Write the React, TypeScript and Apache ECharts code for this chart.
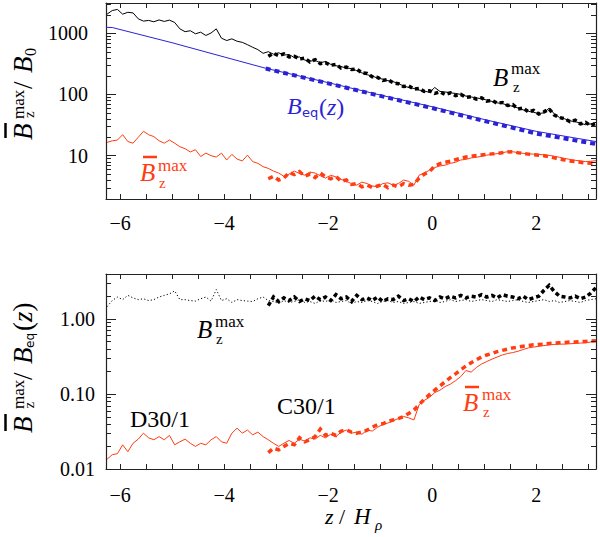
import { useEffect, useRef } from 'react';
import * as echarts from 'echarts';

// ---------- data ----------
const zD30 = [
  -6.25, -6.15, -6.05, -5.95, -5.85, -5.75, -5.65, -5.55, -5.45, -5.35,
  -5.25, -5.15, -5.05, -4.95, -4.85, -4.75, -4.65, -4.55, -4.45, -4.35,
  -4.25, -4.15, -4.05, -3.95, -3.85, -3.75, -3.65, -3.55, -3.45, -3.35,
  -3.25, -3.15, -3.05, -2.95, -2.85, -2.75, -2.65, -2.55, -2.45, -2.35,
  -2.25, -2.15, -2.05, -1.95, -1.85, -1.75, -1.65, -1.55, -1.45, -1.35,
  -1.25, -1.15, -1.05, -0.95, -0.85, -0.75, -0.65, -0.55, -0.45, -0.35,
  -0.25, -0.15, -0.05, 0.05, 0.15, 0.25, 0.35, 0.45, 0.55, 0.65,
  0.75, 0.85, 0.95, 1.05, 1.15, 1.25, 1.35, 1.45, 1.55, 1.65,
  1.75, 1.85, 1.95, 2.05, 2.15, 2.25, 2.35, 2.45, 2.55, 2.65,
  2.75, 2.85, 2.95, 3.05, 3.15,
];
const zC30 = [
  -3.15, -3.05, -2.95, -2.85, -2.75, -2.65, -2.55, -2.45, -2.35, -2.25,
  -2.15, -2.05, -1.95, -1.85, -1.75, -1.65, -1.55, -1.45, -1.35, -1.25,
  -1.15, -1.05, -0.95, -0.85, -0.75, -0.65, -0.55, -0.45, -0.35, -0.25,
  -0.15, -0.05, 0.05, 0.15, 0.25, 0.35, 0.45, 0.55, 0.65, 0.75,
  0.85, 0.95, 1.05, 1.15, 1.25, 1.35, 1.45, 1.55, 1.65, 1.75,
  1.85, 1.95, 2.05, 2.15, 2.25, 2.35, 2.45, 2.55, 2.65, 2.75,
  2.85, 2.95, 3.05, 3.15,
];

// top panel: B_z^max / B0
const bzTopD30 = [
  2050, 2350, 2450, 2050, 2200, 2150, 1720, 1580, 1620, 1540,
  1650, 1560, 1640, 1500, 1180, 1060, 1100, 980, 1040, 920,
  1010, 1180, 830, 760, 810, 740, 710, 650, 590, 540,
  470, 500, 455, 480, 440, 450, 400, 410, 365, 350,
  360, 330, 345, 310, 295, 285, 270, 265, 245, 225,
  210, 200, 185, 178, 168, 162, 150, 138, 130, 125,
  118, 114, 108, 130, 112, 110, 106, 104, 100, 94,
  91, 88, 85, 81, 77, 73, 71, 67, 64, 60,
  56, 53, 51, 49, 50, 60, 48, 42, 40, 37,
  36, 34, 32, 33, 35,
];
const bzTopC30 = [
  420, 470, 430, 460, 410, 420, 380, 390, 340, 370,
  320, 330, 300, 310, 270, 280, 255, 260, 225, 220,
  195, 190, 170, 175, 155, 150, 135, 138, 122, 125,
  112, 115, 104, 110, 100, 106, 96, 100, 90, 92,
  84, 88, 78, 80, 72, 74, 66, 68, 58, 60,
  52, 55, 48, 52, 58, 46, 42, 40, 36, 38,
  33, 35, 31, 34,
];
const zEqD30 = [-6.27, -6.15, -5, -4, -3.2, -2, -1, 0, 1, 2, 3.15];
const beqD30 = [1250, 1240, 700, 410, 268, 156, 98, 63, 39, 25, 17];
const zEqC30 = [-3.2, -2, -1, 0, 1, 2, 3.15];
const beqC30 = [265, 152, 95, 60, 37, 23, 15.5];
const bmTopD30 = [
  16.5, 17.5, 18, 22, 17, 16, 20, 25, 22, 20.5,
  17.5, 16, 18, 16, 14, 13, 11.5, 12.5, 9.7, 11,
  10, 9.5, 11, 8.5, 10.5, 8.8, 8.2, 10.2, 8.0, 7.5,
  6.6, 6.2, 5.6, 5.2, 4.6, 5.0, 5.6, 5.1, 4.8, 5.4,
  5.2, 4.7, 4.3, 4.8, 4.5, 4.1, 3.8, 3.5, 3.3, 3.7,
  3.5, 3.2, 3.1, 3.5, 3.6, 3.3, 3.5, 4.0, 3.8, 3.3,
  4.8, 5.2, 5.8, 6.4, 6.8, 7.0, 7.5, 7.8, 8.5, 8.7,
  9.2, 9.4, 9.8, 10.2, 10.5, 10.8, 11.2, 11.6, 11.6, 11.2,
  10.9, 10.7, 10.6, 10.5, 10.3, 10.1, 9.8, 9.4, 9.0, 8.7,
  8.4, 8.2, 8.0, 8.1, 8.3,
];
const bmTopC30 = [
  4.2, 4.6, 4.0, 4.3, 5.3, 4.9, 5.5, 4.6, 5.0, 4.4,
  5.2, 4.5, 4.2, 4.6, 3.8, 4.0, 3.4, 3.5, 3.1, 3.3,
  3.0, 3.2, 3.4, 3.0, 3.3, 3.1, 3.5, 3.3, 3.4, 4.3,
  5.0, 5.5, 6.8, 7.4, 7.8, 8.1, 8.6, 9.1, 9.5, 9.8,
  10.1, 10.3, 10.5, 10.7, 10.9, 11.2, 11.5, 11.6, 11.2, 10.9,
  10.6, 10.4, 10.2, 10.0, 9.6, 9.2, 8.8, 8.5, 8.2, 8.0,
  7.8, 7.6, 7.5, 7.5,
];

// bottom panel: ratio to B_eq(z)
const bzBotD30 = [
  1.45, 1.75, 1.95, 1.8, 2.05, 1.9, 1.8, 1.85, 1.75, 1.8,
  1.95, 2.05, 2.15, 2.35, 1.8, 1.8, 1.75, 1.72, 1.85, 1.95,
  1.72, 2.45, 1.75, 1.85, 1.65, 1.8, 1.75, 1.72, 1.7, 1.85,
  1.95, 1.75, 1.7, 1.6, 1.75, 1.65, 1.7, 1.8, 1.65, 1.7,
  1.6, 1.75, 1.7, 1.8, 1.65, 1.7, 1.75, 1.6, 1.7, 1.65,
  1.75, 1.7, 1.6, 1.7, 1.75, 1.65, 1.7, 1.6, 1.65, 1.7,
  1.6, 1.65, 1.7, 1.75, 1.65, 1.7, 1.8, 1.7, 1.75, 1.8,
  1.7, 1.75, 1.8, 1.75, 1.7, 1.8, 1.75, 1.7, 1.75, 1.8,
  1.7, 1.65, 1.7, 1.75, 1.8, 1.7, 1.75, 1.65, 1.7, 1.75,
  1.7, 1.65, 1.75, 1.8, 1.85,
];
const bzBotC30 = [
  1.5, 1.95, 1.7, 1.9, 1.75, 1.95, 1.7, 1.85, 1.75, 2.0,
  1.8, 1.95, 1.75, 2.1, 1.85, 1.95, 1.7, 2.05, 1.8, 1.9,
  1.75, 1.95, 1.7, 1.85, 1.8, 2.0, 1.75, 1.85, 1.7, 1.95,
  1.8, 1.9, 1.75, 1.95, 1.85, 2.0, 1.9, 2.05, 1.9, 2.0,
  1.95, 2.1, 1.95, 2.05, 1.9, 2.1, 2.0, 1.95, 1.85, 2.0,
  1.8, 1.9, 2.0, 2.4, 2.8, 2.3, 2.0, 1.95, 1.9, 2.0,
  1.85, 1.95, 2.2, 2.6,
];
const bmBotD30 = [
  0.0135, 0.0155, 0.016, 0.021, 0.017, 0.022, 0.025, 0.030, 0.026, 0.0245,
  0.027, 0.0245, 0.028, 0.021, 0.023, 0.025, 0.022, 0.020, 0.022, 0.021,
  0.0245, 0.027, 0.023, 0.022, 0.030, 0.035, 0.030, 0.033, 0.0285, 0.031,
  0.027, 0.0245, 0.022, 0.020, 0.022, 0.024, 0.022, 0.025, 0.0235, 0.026,
  0.025, 0.028, 0.026, 0.029, 0.027, 0.031, 0.033, 0.030, 0.031, 0.029,
  0.033, 0.032, 0.036, 0.039, 0.041, 0.044, 0.047, 0.050, 0.048, 0.045,
  0.072, 0.082, 0.090, 0.104, 0.112, 0.125, 0.135, 0.150, 0.170, 0.205,
  0.195, 0.225, 0.25, 0.27, 0.29, 0.31, 0.33, 0.345, 0.355, 0.37,
  0.39, 0.41, 0.42, 0.43, 0.44, 0.45, 0.455, 0.46, 0.46, 0.465,
  0.47, 0.475, 0.48, 0.49, 0.50,
];
const bmBotC30 = [
  0.0165, 0.019, 0.018, 0.020, 0.022, 0.021, 0.026, 0.023, 0.0245, 0.027,
  0.034, 0.028, 0.030, 0.028, 0.032, 0.033, 0.031, 0.030, 0.031, 0.033,
  0.036, 0.039, 0.040, 0.043, 0.045, 0.047, 0.050, 0.055, 0.061, 0.072,
  0.085, 0.098, 0.112, 0.128, 0.145, 0.165, 0.185, 0.21, 0.235, 0.26,
  0.285, 0.31, 0.33, 0.345, 0.365, 0.38, 0.395, 0.41, 0.42, 0.43,
  0.44, 0.45, 0.455, 0.46, 0.47, 0.475, 0.48, 0.485, 0.49, 0.49,
  0.495, 0.50, 0.505, 0.51,
];

// axes
const zMin = -6.27;
const zMax = 3.15;
const topMin = 1.96;
const topMax = 3120;
const botMin = 0.01;
const botMax = 3.95;
const zMinorTicks = [-6, -5.5, -5, -4.5, -4, -3.5, -3, -2.5, -2, -1.5, -1, -0.5, 0, 0.5, 1, 1.5, 2, 2.5, 3];
const topMinorTicks = [3, 4, 5, 6, 7, 8, 9, 20, 30, 40, 50, 60, 70, 80, 90, 200, 300, 400, 500, 600, 700, 800, 900, 2000, 3000];
const botMinorTicks = [0.02, 0.03, 0.04, 0.05, 0.06, 0.07, 0.08, 0.09, 0.2, 0.3, 0.4, 0.5, 0.6, 0.7, 0.8, 0.9, 2, 3];

// ---------- styling ----------
const SERIF = "'Liberation Serif', 'Times New Roman', serif";
const SANS = "'DejaVu Sans', 'Liberation Sans', sans-serif";
const BLACK = '#000000';
const BLUE = '#2b22d6';
const RED = '#ff3c12';
const FRAME = '#222222';

const isDecade = (v: number) => {
  const l = Math.log10(v);
  return Math.abs(l - Math.round(l)) < 1e-6;
};

const pairs = (xs: number[], ys: number[]) => xs.map((x, i) => [x, ys[i]]);

const lineSeries = (grid: number, xs: number[], ys: number[], color: string, width: number, type: any, z: number) => ({
  type: 'line',
  xAxisIndex: grid * 2,
  yAxisIndex: grid * 2,
  data: pairs(xs, ys),
  showSymbol: false,
  symbol: 'none',
  silent: true,
  z,
  lineStyle: { color, width, type, cap: 'butt', join: 'miter' },
});

const tickSeries = (grid: number, kind: 'x' | 'y', values: number[], ref: number, len: number) => ({
  type: 'custom',
  xAxisIndex: grid * 2,
  yAxisIndex: grid * 2,
  silent: true,
  clip: false,
  z: 20,
  encode: { x: 0, y: 1 },
  data: values.map((v) => (kind === 'x' ? [v, ref] : [ref, v])),
  renderItem: (params: any, api: any) => {
    const cs = params.coordSys;
    const p = api.coord([api.value(0), api.value(1)]);
    const st = { stroke: FRAME, lineWidth: 1 };
    if (kind === 'x') {
      const x = Math.round(p[0]) + 0.5;
      return {
        type: 'group',
        children: [
          { type: 'line', shape: { x1: x, y1: cs.y + cs.height, x2: x, y2: cs.y + cs.height - len }, style: st },
          { type: 'line', shape: { x1: x, y1: cs.y, x2: x, y2: cs.y + len }, style: st },
        ],
      };
    }
    const y = Math.round(p[1]) + 0.5;
    return {
      type: 'group',
      children: [
        { type: 'line', shape: { x1: cs.x, y1: y, x2: cs.x + len, y2: y }, style: st },
        { type: 'line', shape: { x1: cs.x + cs.width, y1: y, x2: cs.x + cs.width - len, y2: y }, style: st },
      ],
    };
  },
});

const zLabel = (v: number) => {
  if (Math.abs(v - Math.round(v)) > 1e-6) return '';
  const r = Math.round(v);
  return r < 0 ? '\u2212' + Math.abs(r) : String(r);
};

const xAxisDef = (grid: number, position: 'bottom' | 'top', margin: number) => ({
  type: 'value',
  gridIndex: grid,
  position,
  min: zMin,
  max: zMax,
  splitNumber: 5,
  splitLine: { show: false },
  axisLine: { show: true, onZero: false, lineStyle: { color: FRAME, width: 1.2 } },
  axisTick: { show: true, inside: true, length: 5, lineStyle: { color: FRAME } },
  axisLabel: {
    show: position === 'bottom',
    margin,
    formatter: zLabel,
    color: BLACK,
    fontFamily: SERIF,
    fontSize: 20,
  },
});

const yAxisDef = (grid: number, position: 'left' | 'right', min: number, max: number, margin: number, fmt: (v: number) => string) => ({
  type: 'log',
  logBase: 10,
  gridIndex: grid,
  position,
  min,
  max,
  splitLine: { show: false },
  minorTick: { show: false },
  axisLine: { show: true, onZero: false, lineStyle: { color: FRAME, width: 1.2 } },
  axisTick: { show: true, inside: true, length: 10, lineStyle: { color: FRAME } },
  axisLabel: {
    show: position === 'left',
    margin,
    formatter: fmt,
    color: BLACK,
    fontFamily: SERIF,
    fontSize: 20,
  },
});

// ---------- text helpers ----------
const T = (text: string, x: number, y: number, size: number, color = BLACK, italic = false, family = SERIF) => ({
  type: 'text',
  x,
  y,
  silent: true,
  style: {
    text,
    fill: color,
    fontSize: size,
    fontFamily: family,
    fontStyle: italic ? 'italic' : 'normal',
    align: 'left',
    verticalAlign: 'middle',
    textAlign: 'left',
    textVerticalAlign: 'middle',
  },
});
const bar = (x1: number, x2: number, y: number, color: string, w = 2.5) => ({
  type: 'line',
  silent: true,
  shape: { x1, y1: y, x2, y2: y },
  style: { stroke: color, lineWidth: w },
});
const richText = (text: string, x: number, y: number, rich: any) => ({
  type: 'text',
  x,
  y,
  silent: true,
  style: { text, rich, align: 'left', verticalAlign: 'middle', textAlign: 'left', textVerticalAlign: 'middle' },
});

const parenRich = (size: number, color: string) => ({
  p: { fontSize: size, fontFamily: SERIF, fill: color, fontStyle: 'normal' },
  i: { fontSize: size, fontFamily: SERIF, fill: color, fontStyle: 'italic' },
});

const graphics: any[] = [
  // top panel labels
  T('B', 493, 77, 25, BLACK, true),
  T('max', 511, 68.5, 17),
  T('z', 513, 86.5, 15),
  T('B', 287, 105.5, 24, BLUE, true),
  T('eq', 302, 112, 13, BLUE, false, SANS),
  richText('{p|(}{i|z}{p|)}', 319, 107, parenRich(24, BLUE)),
  bar(143, 157, 157, RED),
  T('B', 140, 172.5, 25, RED, true),
  T('max', 158, 165, 17, RED),
  T('z', 159, 183, 15, RED),
  // bottom panel labels
  T('B', 197, 329.5, 25, BLACK, true),
  T('max', 215, 321, 17),
  T('z', 216, 338.5, 15),
  bar(465, 479, 387, RED),
  T('B', 463, 402, 25, RED, true),
  T('max', 482, 394, 17, RED),
  T('z', 483, 412, 15, RED),
  T('D30/1', 130, 418.5, 24),
  T('C30/1', 277, 405.5, 24),
  // x axis title
  T('z', 325, 516.5, 22, BLACK, true),
  T('/', 339, 516.5, 22),
  T('H', 354, 516.5, 23, BLACK, true),
  T('\u03c1', 375, 525, 15, BLACK, true),
  // y axis titles (rotated)
  {
    type: 'group',
    x: 32,
    y: 140,
    rotation: Math.PI / 2,
    children: [
      T('B', 0, -9.5, 27, BLACK, true),
      bar(2, 17, -26.5, BLACK),
      T('max', 21, -14, 17),
      T('z', 22, -3.5, 15),
      T('/', 51, -9.5, 27),
      T('B', 67, -9.5, 27, BLACK, true),
      T('0', 84, -2, 16),
    ],
  },
  {
    type: 'group',
    x: 32,
    y: 433,
    rotation: Math.PI / 2,
    children: [
      T('B', 0, -9.5, 27, BLACK, true),
      bar(2, 19, -26.5, BLACK),
      T('max', 24, -14, 17),
      T('z', 24.5, -3.5, 15),
      T('/', 53, -9.5, 27),
      T('B', 69, -9.5, 27, BLACK, true),
      T('eq', 85, -2.5, 12, BLACK, false, SANS),
      richText('{p|(}{i|z}{p|)}', 102, -9.5, parenRich(27, BLACK)),
    ],
  },
];

const option: any = {
  animation: false,
  backgroundColor: '#ffffff',
  grid: [
    { left: 106, top: 3, width: 490, height: 196 },
    { left: 106, top: 274, width: 490, height: 195 },
  ],
  xAxis: [
    xAxisDef(0, 'bottom', 14),
    xAxisDef(0, 'top', 14),
    xAxisDef(1, 'bottom', 16),
    xAxisDef(1, 'top', 16),
  ],
  yAxis: [
    yAxisDef(0, 'left', topMin, topMax, 18, (v) => (isDecade(v) ? String(Math.round(v)) : '')),
    yAxisDef(0, 'right', topMin, topMax, 18, () => ''),
    yAxisDef(1, 'left', botMin, botMax, 11, (v) => (isDecade(v) ? v.toFixed(2) : '')),
    yAxisDef(1, 'right', botMin, botMax, 11, () => ''),
  ],
  series: [
    // top panel
    lineSeries(0, zEqD30, beqD30, BLUE, 1, 'solid', 2),
    lineSeries(0, zEqC30, beqC30, BLUE, 4, [5, 4], 3),
    lineSeries(0, zD30, bzTopD30, BLACK, 1, 'solid', 4),
    lineSeries(0, zC30, bzTopC30, BLACK, 3.5, [4, 3], 5),
    lineSeries(0, zD30, bmTopD30, RED, 1, 'solid', 4),
    lineSeries(0, zC30, bmTopC30, RED, 3.5, [5, 4], 5),
    // bottom panel
    lineSeries(1, zD30, bzBotD30, BLACK, 1, [1.2, 2.2], 4),
    lineSeries(1, zC30, bzBotC30, BLACK, 3.5, [4, 3], 5),
    lineSeries(1, zD30, bmBotD30, RED, 1, 'solid', 4),
    lineSeries(1, zC30, bmBotC30, RED, 3.5, [5, 4], 5),
    // minor ticks
    tickSeries(0, 'x', zMinorTicks, 10, 5),
    tickSeries(0, 'y', topMinorTicks, 0, 5),
    tickSeries(1, 'x', zMinorTicks, 0.1, 5),
    tickSeries(1, 'y', botMinorTicks, 0, 5),
  ],
  graphic: graphics,
};

export default function App() {
  const ref = useRef<HTMLDivElement>(null);
  useEffect(() => {
    document.body.style.margin = '0';
    const chart = echarts.init(ref.current as HTMLDivElement, null, { renderer: 'svg' });
    chart.setOption(option);
    return () => chart.dispose();
  }, []);
  return <div ref={ref} style={{ position: 'absolute', left: 0, top: 0, width: 600, height: 537, background: '#fff' }} />;
}
